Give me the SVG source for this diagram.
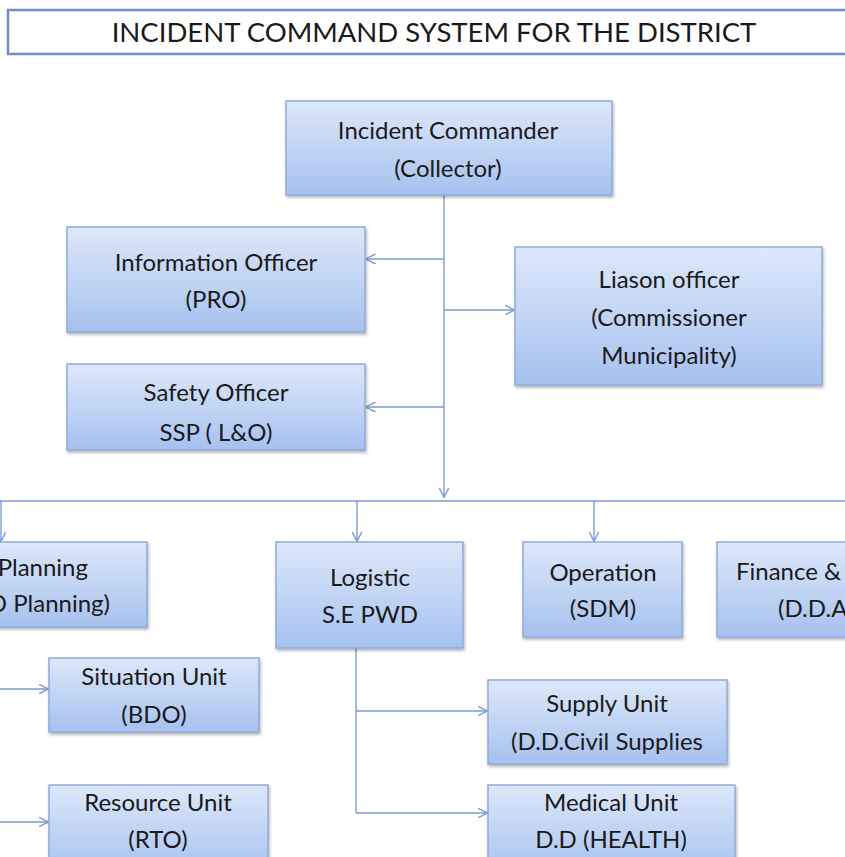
<svg xmlns="http://www.w3.org/2000/svg" width="845" height="857" viewBox="0 0 845 857">
<style>
.box{fill:url(#g);stroke:#8eaadb;stroke-width:1.5;filter:url(#sh)}
.t{font-family:Lato,"Open Sans","Liberation Sans",sans-serif;font-size:24px;fill:#1a1a1a;text-anchor:middle}
.ln{fill:none;stroke:#7c9cd2;stroke-width:1.4}
</style>
<defs>
<linearGradient id="g" x1="0" y1="0" x2="0" y2="1">
<stop offset="0" stop-color="#dde8f9"/>
<stop offset="1" stop-color="#a6c1ef"/>
</linearGradient>
<filter id="sh" x="-10%" y="-10%" width="120%" height="130%">
<feDropShadow dx="1" dy="2" stdDeviation="1.5" flood-color="#000" flood-opacity="0.3"/>
</filter>
<marker id="a" viewBox="0 0 10 10" refX="9.5" refY="5" markerWidth="10" markerHeight="10" markerUnits="userSpaceOnUse" orient="auto">
<path d="M0,0 L10,5 L0,10" fill="none" stroke="#7c9cd2" stroke-width="1.4"/>
</marker>
</defs>
<rect width="845" height="857" fill="#fff"/>
<g id="title">
<rect x="8" y="10" width="845" height="44" fill="#fff" stroke="#6f8fc6" stroke-width="2.5"/>
<text x="434" y="42" font-family="Lato,'Open Sans','Liberation Sans',sans-serif" font-size="27.5" fill="#1a1a1a" text-anchor="middle">INCIDENT COMMAND SYSTEM FOR THE DISTRICT</text>
</g>
<g id="connectors">
<path class="ln" d="M444,195 V497" marker-end="url(#a)"/>
<path class="ln" d="M444,259 H366" marker-end="url(#a)"/>
<path class="ln" d="M444,407 H366" marker-end="url(#a)"/>
<path class="ln" d="M444,310 H514" marker-end="url(#a)"/>
<path class="ln" d="M0,501 H845"/>
<path class="ln" d="M1,501 V541" marker-end="url(#a)"/>
<path class="ln" d="M357,501 V541" marker-end="url(#a)"/>
<path class="ln" d="M594,501 V541" marker-end="url(#a)"/>
<path class="ln" d="M356,648 V813"/>
<path class="ln" d="M356,711 H487" marker-end="url(#a)"/>
<path class="ln" d="M356,813 H487" marker-end="url(#a)"/>
<path class="ln" d="M0,689 H48" marker-end="url(#a)"/>
<path class="ln" d="M0,822 H48" marker-end="url(#a)"/>
</g>
<g id="commander">
<rect class="box" x="286" y="101" width="326" height="94"/>
<text class="t" x="448" y="139">Incident Commander</text>
<text class="t" x="448" y="177">(Collector)</text>
</g>
<g id="info">
<rect class="box" x="67" y="227" width="298" height="105"/>
<text class="t" x="216" y="271">Information Officer</text>
<text class="t" x="216" y="308">(PRO)</text>
</g>
<g id="safety">
<rect class="box" x="67" y="364" width="298" height="86"/>
<text class="t" x="216" y="401">Safety Officer</text>
<text class="t" x="216" y="441">SSP ( L&amp;O)</text>
</g>
<g id="liaison">
<rect class="box" x="515" y="247" width="307" height="138"/>
<text class="t" x="669" y="288">Liason officer</text>
<text class="t" x="669" y="326">(Commissioner</text>
<text class="t" x="669" y="364">Municipality)</text>
</g>
<g id="planning">
<rect class="box" x="-150" y="542" width="297" height="85"/>
<text class="t" x="88" y="576" style="text-anchor:end">Planning</text>
<text class="t" x="110" y="612" style="text-anchor:end">(D.D Planning)</text>
</g>
<g id="logistic">
<rect class="box" x="276" y="542" width="187" height="106"/>
<text class="t" x="370" y="586">Logistic</text>
<text class="t" x="370" y="623">S.E PWD</text>
</g>
<g id="operation">
<rect class="box" x="523" y="542" width="159" height="95"/>
<text class="t" x="603" y="581">Operation</text>
<text class="t" x="603" y="617">(SDM)</text>
</g>
<g id="finance">
<rect class="box" x="717" y="542" width="200" height="95"/>
<text class="t" x="736" y="580" style="text-anchor:start">Finance &amp;</text>
<text class="t" x="778" y="617" style="text-anchor:start">(D.D.A</text>
</g>
<g id="situation">
<rect class="box" x="49" y="658" width="210" height="74"/>
<text class="t" x="154" y="685">Situation Unit</text>
<text class="t" x="154" y="723">(BDO)</text>
</g>
<g id="resource">
<rect class="box" x="49" y="785" width="219" height="90"/>
<text class="t" x="158" y="811">Resource Unit</text>
<text class="t" x="158" y="848">(RTO)</text>
</g>
<g id="supply">
<rect class="box" x="488" y="680" width="239" height="84"/>
<text class="t" x="607" y="712">Supply Unit</text>
<text class="t" x="607" y="750">(D.D.Civil Supplies</text>
</g>
<g id="medical">
<rect class="box" x="488" y="785" width="247" height="90"/>
<text class="t" x="611" y="811">Medical Unit</text>
<text class="t" x="611" y="848">D.D (HEALTH)</text>
</g>
</svg>
